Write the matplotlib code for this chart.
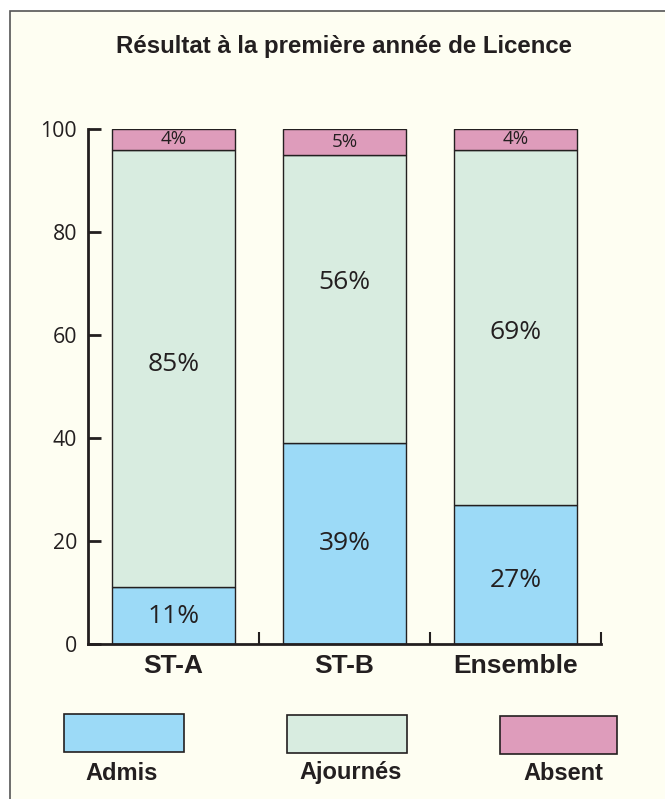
import matplotlib
matplotlib.use("Agg")
import matplotlib.pyplot as plt
from matplotlib.patches import Rectangle
import numpy as np

categories = ["ST-A", "ST-B", "Ensemble"]
admis = [11, 39, 27]
ajournes = [85, 56, 69]
absent = [4, 5, 4]
series_names = ["Admis", "Ajournés", "Absent"]
yticks = [0, 20, 40, 60, 80, 100]
title = "Résultat à la première année de Licence"

# vertical placement of the percentage labels (in axis units)
label_y_admis = [5.4, 19.6, 12.4]
label_y_ajournes = [54.2, 70.1, 60.4]
label_y_absent = [98.0, 97.5, 98.0]

c_admis = "#9cdaf7"
c_ajour = "#d8ece0"
c_abs = "#de9cbb"
bg = "#fefef2"
dark = "#231f20"
colors = [c_admis, c_ajour, c_abs]

W, H = 665, 799
fig = plt.figure(figsize=(W / 100, H / 100), dpi=100)
fig.patch.set_facecolor("white")

# panel frame
fig.patches.append(Rectangle((10 / W, -0.05), 1.1, 1 - 11 / H + 0.05,
                             transform=fig.transFigure, facecolor=bg,
                             edgecolor="#555555", linewidth=1.2, zorder=-5))

fig.text(344 / W, 1 - 47 / H, title, ha="center", va="center",
         fontsize=17.3, fontweight="bold", family="Liberation Sans", color=dark,
         zorder=5)

ax = fig.add_axes([88 / W, 1 - 644 / H, 513 / W, 515 / H])
ax.set_zorder(3)
ax.set_facecolor("none")
x = np.arange(len(categories))
bw = 123 / 171
bottoms = np.zeros(len(categories))
for vals, col, ly in zip([admis, ajournes, absent], colors,
                         [label_y_admis, label_y_ajournes, label_y_absent]):
    ax.bar(x, vals, bw, bottom=bottoms, color=col, edgecolor=dark,
           linewidth=1.0, zorder=2)
    for xi, v, yy in zip(x, vals, ly):
        fs = 13.5 if v < 8 else 19
        ax.text(xi, yy, f"{v}%", ha="center", va="center",
                fontsize=fs, family="Open Sans", color=dark, zorder=3)
    bottoms = bottoms + np.array(vals)

ax.set_xlim(-0.5, 2.5)
ax.set_ylim(0, 100)
for s in ["top", "right"]:
    ax.spines[s].set_visible(False)
ax.spines["left"].set_linewidth(2)
ax.spines["bottom"].set_linewidth(2)
ax.spines["left"].set_color(dark)
ax.spines["bottom"].set_color(dark)

ax.set_yticks(yticks)
ax.set_yticklabels([str(t) for t in yticks], family="Open Sans", fontsize=15.3, color=dark)
ax.tick_params(axis="y", direction="in", length=9, width=2, color=dark, pad=8)

ax.set_xticks(x)
ax.set_xticklabels(categories, fontsize=19, fontweight="bold",
                   family="Liberation Sans", color=dark)
ax.tick_params(axis="x", which="major", length=0, pad=7)
ax.set_xticks([0.5, 1.5, 2.5], minor=True)
ax.tick_params(axis="x", which="minor", direction="in", length=9, width=1.5, color=dark)

# legend
leg_boxes = [(64, 714, 120, 38), (287, 715, 120, 38), (500, 716, 117, 38)]
leg_label_x = [122, 351, 563]
for (lx, ly, lw, lh), col, name, tx in zip(leg_boxes, colors, series_names, leg_label_x):
    fig.patches.append(Rectangle((lx / W, 1 - (ly + lh) / H), lw / W, lh / H,
                                 transform=fig.transFigure, facecolor=col,
                                 edgecolor=dark, linewidth=1.2, zorder=1))
    fig.text(tx / W, 1 - 773 / H, name, ha="center", va="center",
             fontsize=17, fontweight="bold", family="Liberation Sans", color=dark)

fig.savefig("out.png", dpi=100, facecolor=fig.get_facecolor())
